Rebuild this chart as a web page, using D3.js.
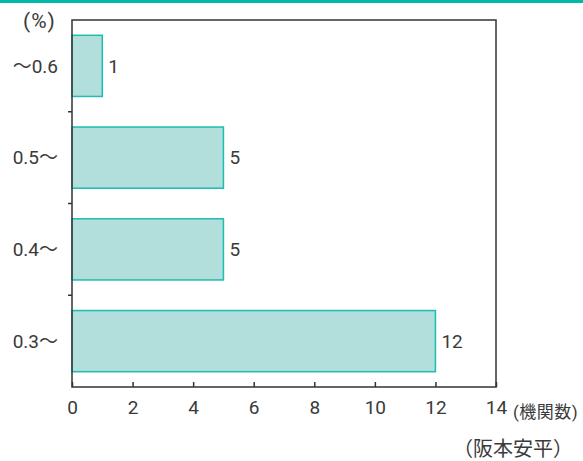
<!DOCTYPE html>
<html lang="ja">
<head>
<meta charset="UTF-8"/>
<title>機関数</title>
<script src="https://cdn.jsdelivr.net/npm/d3@7"></script>
<style>
  body { margin: 0; background: #fff; }
  text { font-family: Roboto, "Noto Sans CJK JP", sans-serif; fill: #3a3a3a; }
</style>
</head>
<body>
<script>
var categories = ["～0.6", "0.5～", "0.4～", "0.3～"];
var counts = [1, 5, 5, 12];
var xTicks = [0, 2, 4, 6, 8, 10, 12, 14];

var w = 583, h = 461;
var plotLeft = 72, plotRight = 496, plotTop = 20, plotBottom = 387;

var svg = d3.select("body").append("svg")
  .attr("width", w)
  .attr("height", h);

// teal rule at the top
svg.append("rect")
  .attr("x", 0).attr("y", 0)
  .attr("width", w).attr("height", 3)
  .attr("fill", "#00b8a9");

var x = d3.scaleLinear().domain([0, 14]).range([plotLeft, plotRight]);
var y = d3.scaleBand().domain(categories).range([plotTop, plotBottom])
  .paddingInner(1 / 3).paddingOuter(1 / 6);

// bars
svg.selectAll("rect.bar")
  .data(counts)
  .enter().append("rect")
  .attr("class", "bar")
  .attr("x", x(0))
  .attr("y", function(d, i) { return y(categories[i]); })
  .attr("width", function(d) { return x(d) - x(0); })
  .attr("height", y.bandwidth())
  .attr("fill", "#b2dedc")
  .attr("stroke", "#1dbdb0")
  .attr("stroke-width", 1.5);

// value labels
svg.selectAll("text.val")
  .data(counts)
  .enter().append("text")
  .attr("class", "val")
  .attr("x", function(d) { return x(d) + 6; })
  .attr("y", function(d, i) { return y(categories[i]) + y.bandwidth() / 2; })
  .attr("dy", "0.36em")
  .attr("font-size", "19px")
  .text(function(d) { return d; });

// frame
svg.append("rect")
  .attr("x", plotLeft).attr("y", plotTop)
  .attr("width", plotRight - plotLeft).attr("height", plotBottom - plotTop)
  .attr("fill", "none")
  .attr("stroke", "#333")
  .attr("stroke-width", 1.5);

// x axis, ticks pointing inside
var xAxis = d3.axisBottom(x).tickValues(xTicks).tickSizeInner(-5).tickSizeOuter(0).tickPadding(14);
var gx = svg.append("g")
  .attr("transform", "translate(0," + plotBottom + ")")
  .call(xAxis);
gx.select(".domain").remove();
gx.selectAll(".tick line").attr("stroke", "#333").attr("stroke-width", 1.5);
gx.selectAll(".tick text").attr("font-size", "19px").attr("fill", "#3a3a3a")
  .attr("font-family", "Roboto, sans-serif");

// category labels
svg.selectAll("text.cat")
  .data(categories)
  .enter().append("text")
  .attr("class", "cat")
  .attr("x", 58)
  .attr("y", function(d) { return y(d) + y.bandwidth() / 2; })
  .attr("dy", "0.36em")
  .attr("text-anchor", "end")
  .attr("font-size", "19px")
  .text(function(d) { return d; });

// separators between bands on the y axis
var gap = y.step() - y.bandwidth();
svg.selectAll("line.sep")
  .data(categories.slice(1))
  .enter().append("line")
  .attr("class", "sep")
  .attr("x1", plotLeft - 4).attr("x2", plotLeft)
  .attr("y1", function(d) { return y(d) - gap / 2; })
  .attr("y2", function(d) { return y(d) - gap / 2; })
  .attr("stroke", "#333")
  .attr("stroke-width", 1.5);

// unit labels
svg.append("text")
  .attr("x", 23).attr("y", 28)
  .attr("font-size", "21px")
  .attr("letter-spacing", "1px")
  .text("(%)");

svg.append("text")
  .attr("x", 513).attr("y", 418)
  .attr("font-size", "17px")
  .attr("letter-spacing", "0.5px")
  .attr("font-family", "'Noto Sans CJK JP', sans-serif")
  .text("(機関数)");

svg.append("text")
  .attr("x", 573).attr("y", 456)
  .attr("text-anchor", "end")
  .attr("font-size", "20px")
  .attr("font-family", "'Noto Sans CJK JP', sans-serif")
  .text("（阪本安平）");
</script>
</body>
</html>
